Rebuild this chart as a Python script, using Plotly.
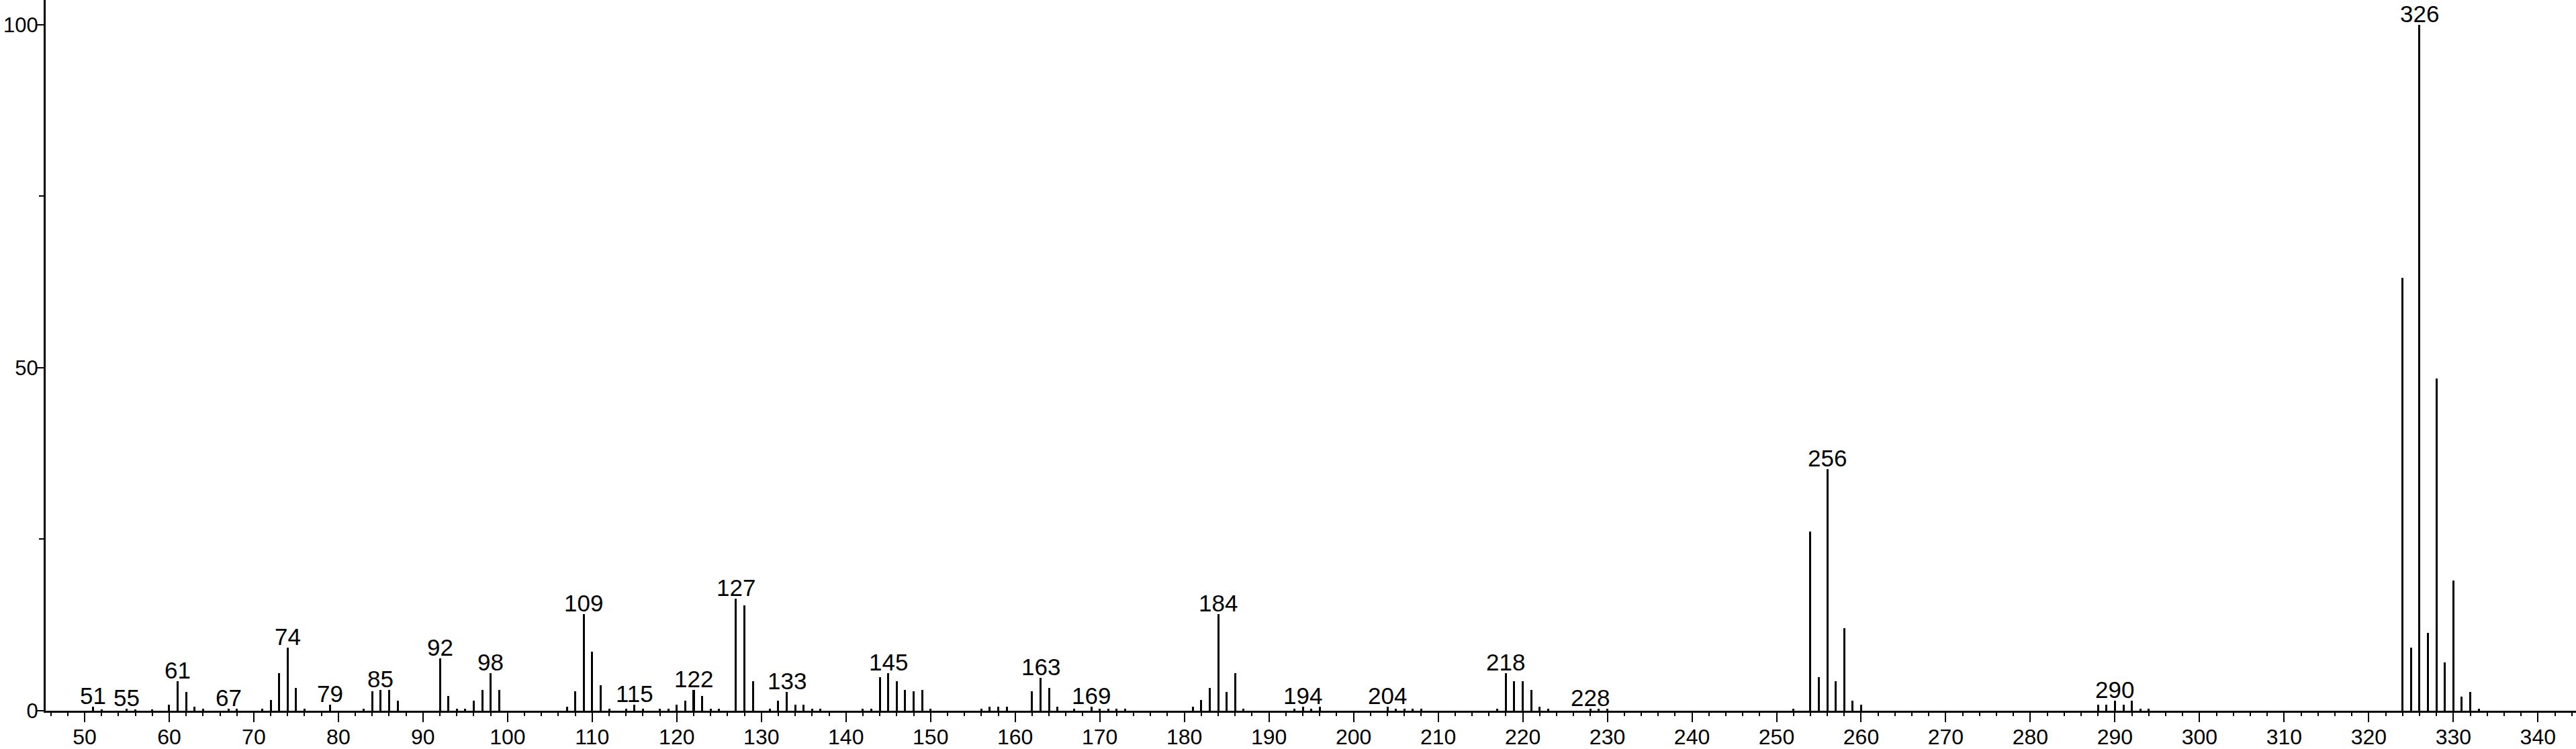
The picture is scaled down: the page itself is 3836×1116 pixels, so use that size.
import plotly.graph_objects as go

# m/z values and relative intensities
mz = [51, 52, 55, 56, 58, 60, 61, 62, 63, 64, 67, 68, 71, 72, 73, 74, 75, 76, 79, 83,
      84, 85, 86, 87, 92, 93, 94, 95, 96, 97, 98, 99, 107, 108, 109, 110, 111, 112, 114, 115,
      116, 118, 119, 120, 121, 122, 123, 124, 125, 127, 128, 129, 131, 132, 133, 134, 135, 136, 137,
      142, 143, 144, 145, 146, 147, 148, 149, 150, 156, 157, 158, 159, 162, 163, 164, 165, 167,
      169, 170, 171, 172, 173, 181, 182, 183, 184, 185, 186, 187, 193, 194, 195, 196,
      204, 205, 206, 207, 208, 217, 218, 219, 220, 221, 222, 223, 228, 229, 230,
      252, 254, 255, 256, 257, 258, 259, 260, 288, 289, 290, 291, 292, 293, 294,
      324, 325, 326, 327, 328, 329, 330, 331, 332, 333]
intensity = [0.6, 0.2, 0.25, 0.2, 0.2, 0.9, 4.3, 2.7, 0.6, 0.25, 0.25, 0.25, 0.25, 1.6, 5.5, 9.15, 3.3, 0.25, 0.9, 0.25,
             2.8, 3.0, 3.0, 1.5, 7.6, 2.2, 0.3, 0.3, 1.5, 3.0, 5.5, 3.0, 0.6, 2.8, 14.05, 8.6, 3.7, 0.3, 0.3, 0.9,
             0.3, 0.25, 0.3, 0.9, 1.5, 3.0, 2.2, 0.3, 0.3, 16.3, 15.4, 4.3, 0.3, 1.5, 2.7, 0.9, 0.9, 0.3, 0.3,
             0.25, 0.3, 4.9, 5.5, 4.3, 3.0, 2.8, 3.0, 0.3, 0.25, 0.6, 0.6, 0.6, 2.8, 4.8, 3.3, 0.6, 0.25,
             0.6, 0.25, 0.25, 0.25, 0.25, 0.6, 1.6, 3.3, 14.05, 2.7, 5.5, 0.3, 0.25, 0.6, 0.25, 0.6,
             0.6, 0.25, 0.25, 0.25, 0.25, 0.25, 5.5, 4.3, 4.3, 3.0, 0.6, 0.25, 0.3, 0.25, 0.25,
             0.3, 26.1, 4.9, 35.2, 4.3, 12.0, 1.5, 0.9, 0.9, 0.9, 1.5, 0.9, 1.5, 0.3, 0.3,
             63.1, 9.2, 100.0, 11.3, 48.4, 7.0, 19.0, 2.1, 2.7, 0.3]

labelled_mz = [51, 55, 61, 67, 74, 79, 85, 92, 98, 109, 115, 122, 127, 133, 145, 163, 169,
               184, 194, 204, 218, 228, 256, 290, 326]
# label heights: intensity of the tallest line under each label
label_heights = [0.6, 0.25, 4.3, 0.25, 9.15, 0.9, 3.0, 7.6, 5.5, 14.05, 0.9, 3.0, 16.3, 2.7, 5.5, 4.8, 0.6,
                 14.05, 0.6, 0.6, 5.5, 0.3, 35.2, 1.5, 100.0]

x_ticks = list(range(50, 341, 10))
y_ticks = [0, 50, 100]

FONT = "Liberation Sans, Arial, sans-serif"

fig = go.Figure()
fig.add_trace(go.Bar(x=mz, y=intensity, width=0.24,
                     marker=dict(color="black", line=dict(width=0)),
                     showlegend=False, hoverinfo="x+y"))

for m, h in zip(labelled_mz, label_heights):
    fig.add_annotation(x=m, y=h, text=str(m), showarrow=False,
                       xanchor="center", yanchor="bottom", yshift=-5,
                       font=dict(family=FONT, size=35, color="black"))

fig.update_layout(
    width=3836, height=1116,
    margin=dict(l=68, r=0, t=0, b=57, autoexpand=False),
    paper_bgcolor="white", plot_bgcolor="white",
    font=dict(family=FONT, size=32, color="black"),
    bargap=0,
)
fig.update_xaxes(
    range=[45.4, 344.5], tickvals=x_ticks, ticktext=[str(v) for v in x_ticks],
    ticks="outside", ticklen=14, tickwidth=2, tickcolor="black",
    minor=dict(dtick=2, tick0=0, ticks="outside", ticklen=5, tickwidth=2, tickcolor="black"),
    showline=True, linewidth=3, linecolor="black",
    showgrid=False, zeroline=False, automargin=False,
    ticklabelstandoff=-5,
    tickfont=dict(family=FONT, size=32, color="black"),
)
fig.update_yaxes(
    range=[0, 103.6], tickvals=y_ticks, ticktext=[str(v) for v in y_ticks],
    ticks="outside", ticklen=12, tickwidth=2, tickcolor="black",
    minor=dict(dtick=25, tick0=0, ticks="outside", ticklen=7, tickwidth=2, tickcolor="black"),
    showline=True, linewidth=3, linecolor="black",
    showgrid=False, zeroline=False, automargin=False,
    ticklabelstandoff=-10,
    tickfont=dict(family=FONT, size=31, color="black"),
)

fig.write_html(
    "out.html",
    config={"displayModeBar": False},
    post_script="document.body.style.margin='0';document.body.style.overflow='hidden';",
)
